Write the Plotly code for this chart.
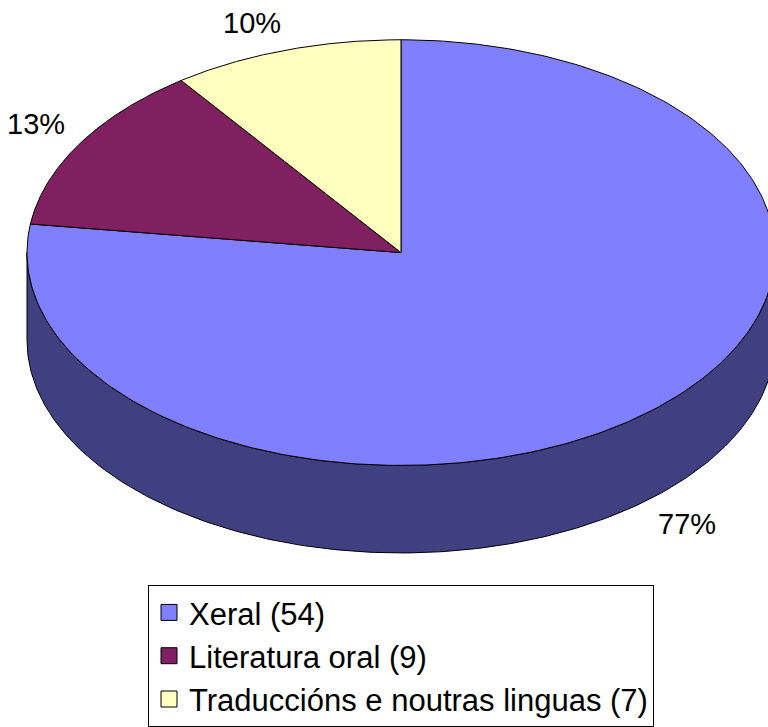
import numpy as np
import plotly.graph_objects as go

categories = ["Xeral (54)", "Literatura oral (9)", "Traduccións e noutras linguas (7)"]
values = [54, 9, 7]
top_colors = ["#8080FF", "#802060", "#FFFFC0"]
side_colors = ["#404080", "#401030", "#808060"]

# layout geometry (pixel space)
W, H = 768, 727
cx, cy = 401, 254
rx, ry = 374, 214
depth = 88
label_gap = 18          # distance from slice edge to nearest corner of label
label_half_w, label_half_h = 28, 10.5

total = sum(values)
fracs = [v / total for v in values]
bounds = np.concatenate([[0], np.cumsum(fracs)]) * 2 * np.pi


def ex(t, r=1.0):
    return cx + rx * r * np.sin(t)


def ey(t, r=1.0, dz=0.0):
    return cy - ry * r * np.cos(t) + dz


fig = go.Figure()

# side walls: visible front half (t in [pi/2, 3pi/2])
for i in range(len(values)):
    a0, a1 = bounds[i], bounds[i + 1]
    lo, hi = max(a0, np.pi / 2), min(a1, 3 * np.pi / 2)
    if hi <= lo:
        continue
    t = np.linspace(lo, hi, 200)
    xs = np.concatenate([ex(t), ex(t[::-1])])
    ys = np.concatenate([ey(t), ey(t[::-1], dz=depth)])
    xs = np.append(xs, xs[0])
    ys = np.append(ys, ys[0])
    fig.add_trace(go.Scatter(x=xs, y=ys, mode="lines", fill="toself",
                             fillcolor=side_colors[i],
                             line=dict(color="black", width=1),
                             showlegend=False, hoverinfo="skip"))

# top slices
for i in range(len(values)):
    a0, a1 = bounds[i], bounds[i + 1]
    t = np.linspace(a0, a1, 300)
    xs = np.concatenate([[cx], ex(t), [cx]])
    ys = np.concatenate([[cy], ey(t), [cy]])
    fig.add_trace(go.Scatter(x=xs, y=ys, mode="lines", fill="toself",
                             fillcolor=top_colors[i],
                             line=dict(color="black", width=1),
                             showlegend=False, hoverinfo="skip"))

# percentage labels, placed just outside the slice edge at its mid angle
for i in range(len(values)):
    mid = (bounds[i] + bounds[i + 1]) / 2
    s, c = np.sin(mid), -np.cos(mid)
    dz = depth if c > 0 else 0
    px = ex(mid) + label_gap * s + np.sign(s) * label_half_w
    py = ey(mid, dz=dz) + label_gap * c + np.sign(c) * label_half_h
    fig.add_annotation(x=px, y=py, text=f"{round(fracs[i] * 100)}%",
                       showarrow=False, xanchor="center", yanchor="middle",
                       font=dict(family="Liberation Sans, Arial", size=29, color="black"))

# legend entries
for i, name in enumerate(categories):
    fig.add_trace(go.Scatter(x=[None], y=[None], mode="markers", name=name,
                             legendgroup=str(i),
                             marker=dict(symbol="square", size=16, color=top_colors[i],
                                         line=dict(color="black", width=1))))

fig.update_layout(
    width=W, height=H,
    margin=dict(l=0, r=0, t=0, b=0),
    plot_bgcolor="white", paper_bgcolor="white",
    xaxis=dict(range=[0, W], visible=False, fixedrange=True),
    yaxis=dict(range=[H, 0], visible=False, fixedrange=True),
    showlegend=True,
    legend=dict(x=148 / W, y=1 - 588 / H, xanchor="left", yanchor="top",
                bordercolor="black", borderwidth=1, bgcolor="white",
                font=dict(family="Liberation Sans, Arial", size=31, color="black"),
                tracegroupgap=0, itemsizing="trace"),
)

fig.write_html("out.html", config={"displayModeBar": False},
               post_script="document.body.style.margin='0px';")
